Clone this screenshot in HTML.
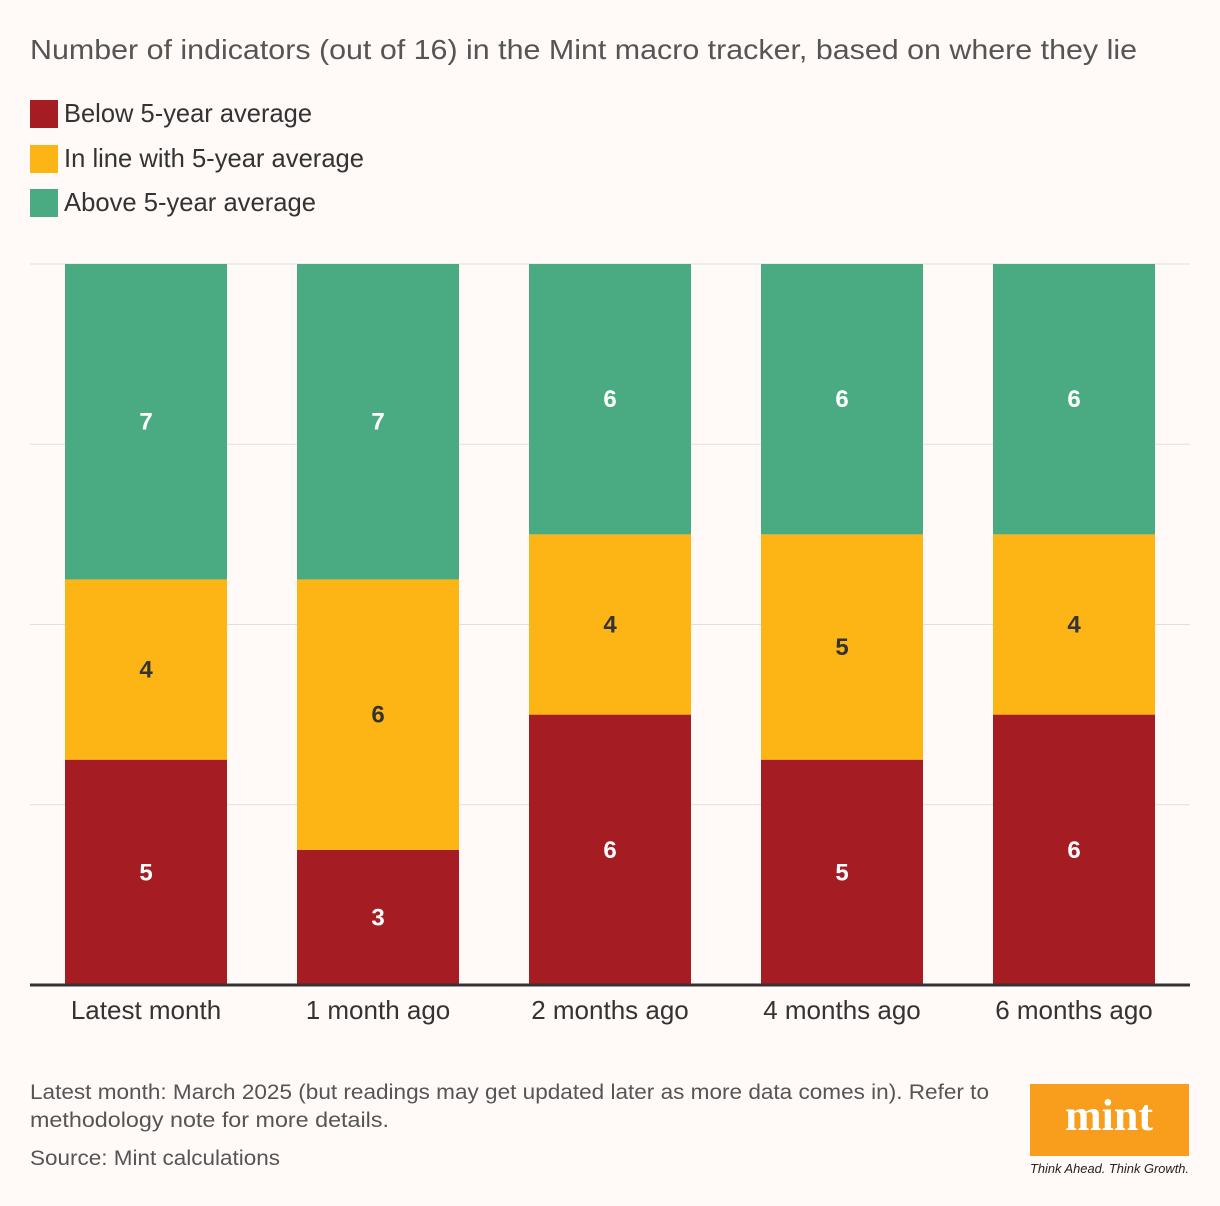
<!DOCTYPE html>
<html><head><meta charset="utf-8"><style>
html,body{margin:0;padding:0;background:#fff9f8;}
svg{display:block;font-family:"Liberation Sans",sans-serif;}
</style></head><body>
<svg id="chart" width="1220" height="1206" viewBox="0 0 1220 1206" xmlns="http://www.w3.org/2000/svg">
<rect x="0" y="0" width="1220" height="1206" fill="#fff9f8"/>
<text x="30" y="59" font-size="28" fill="#555" textLength="1107" lengthAdjust="spacingAndGlyphs">Number of indicators (out of 16) in the Mint macro tracker, based on where they lie</text>
<g>
<rect x="30" y="100" width="28" height="28" fill="#a51c22"/>
<text x="64" y="122" font-size="26" fill="#333" textLength="248" lengthAdjust="spacingAndGlyphs">Below 5-year average</text>
<rect x="30" y="145" width="28" height="28" fill="#fdb515"/>
<text x="64" y="167" font-size="26" fill="#333" textLength="300" lengthAdjust="spacingAndGlyphs">In line with 5-year average</text>
<rect x="30" y="189" width="28" height="28" fill="#4aab82"/>
<text x="64" y="211" font-size="26" fill="#333" textLength="252" lengthAdjust="spacingAndGlyphs">Above 5-year average</text>
</g>
<g id="grid"></g>
<g id="bars"></g>
<g id="labels"></g>
<line x1="30" y1="985" x2="1190" y2="985" stroke="#333" stroke-width="3"/>
<g id="xticks"></g>
<text x="30" y="1099" font-size="21" fill="#555" textLength="959" lengthAdjust="spacingAndGlyphs">Latest month: March 2025 (but readings may get updated later as more data comes in). Refer to</text>
<text x="30" y="1127" font-size="21" fill="#555" textLength="359" lengthAdjust="spacingAndGlyphs">methodology note for more details.</text>
<text x="30" y="1165" font-size="21" fill="#555" textLength="250" lengthAdjust="spacingAndGlyphs">Source: Mint calculations</text>
<g>
<rect x="1030" y="1084" width="159" height="72" fill="#f99d1c"/>
<text x="1109" y="1130" font-family="Liberation Serif,serif" font-weight="bold" font-size="44" fill="#fff" text-anchor="middle">mint</text>
<text x="1030" y="1173" font-size="12.5" font-style="italic" fill="#222" textLength="159" lengthAdjust="spacingAndGlyphs">Think Ahead. Think Growth.</text>
</g>
</svg>
<script>
const categories = ["Latest month","1 month ago","2 months ago","4 months ago","6 months ago"];
const below = [5,3,6,5,6];
const inline = [4,6,4,5,4];
const above = [7,7,6,6,6];
const yTicks = [0,4,8,12,16];
const NS="http://www.w3.org/2000/svg";
const y0=985, y1=264, yMax=16;
function y(v){return y0-(y0-y1)*v/yMax;}
function xc(i){return 146+232*i;}
const bw=162;
const grid=document.getElementById('grid'),bars=document.getElementById('bars'),labels=document.getElementById('labels'),xt=document.getElementById('xticks');
function mk(tag,attrs,parent){const e=document.createElementNS(NS,tag);for(const k in attrs)e.setAttribute(k,attrs[k]);parent.appendChild(e);return e;}
yTicks.forEach(t=>{if(t===0)return;
 const l=mk('line',{x1:30,x2:1190,y1:y(t),y2:y(t),stroke:'#e3dede','stroke-width':1},grid);
 
 
});
const series=[{name:'below',vals:below,color:'#a51c22',txt:'#fff'},{name:'inline',vals:inline,color:'#fdb515',txt:'#333'},{name:'above',vals:above,color:'#4aab82',txt:'#fff'}];
categories.forEach((c,i)=>{
 let acc=0;
 series.forEach(s=>{
  const v=s.vals[i];const top=y(acc+v),bot=y(acc);
  const r=mk('rect',{x:xc(i)-bw/2,y:top,width:bw,height:bot-top,fill:s.color},bars);
  
  
  const t=mk('text',{x:xc(i),y:(top+bot)/2+8,'font-size':24,'font-weight':'bold',fill:s.txt,'text-anchor':'middle'},labels);
  t.textContent=v;
  
  
  acc+=v;
 });
 const tl=mk('text',{x:xc(i),y:1019,'font-size':26,fill:'#333','text-anchor':'middle'},xt);
 tl.textContent=c;
 
 
});
</script>
</body></html>
